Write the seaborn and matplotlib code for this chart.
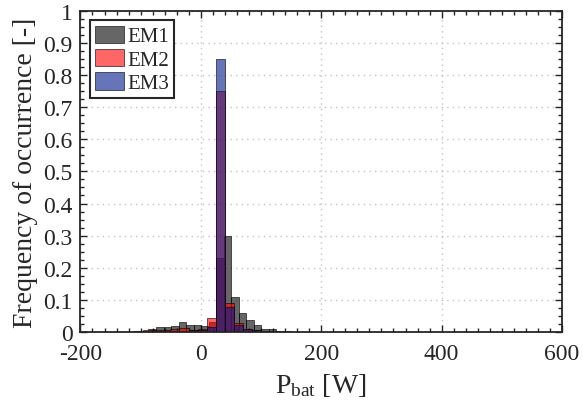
import numpy as np
import pandas as pd
import matplotlib
matplotlib.use("Agg")
import matplotlib.pyplot as plt
import seaborn as sns
from matplotlib.ticker import MultipleLocator

# ---- data ----
series_names = ["EM1", "EM2", "EM3"]

em1_edges_start, em1_bin = -112.0, 12.5
em1_freq = [0.002, 0.004, 0.008, 0.015, 0.015, 0.018, 0.030, 0.022, 0.020, 0.018,
            0.030, 0.230, 0.300, 0.110, 0.058, 0.037, 0.020, 0.010, 0.008, 0.004,
            0.002, 0.001]

em2_edges_start, em2_bin = -110.5, 15.0
em2_freq = [0.003, 0.005, 0.006, 0.007, 0.010, 0.011, 0.005, 0.008, 0.044, 0.750,
            0.090, 0.028, 0.010, 0.005, 0.002]

em3_edges_start, em3_bin = -80.5, 15.0
em3_freq = [0.002, 0.003, 0.004, 0.004, 0.005, 0.006, 0.015, 0.850, 0.078, 0.020,
            0.008, 0.005, 0.003, 0.002]

x_ticks = [-200, 0, 200, 400, 600]
y_ticks = [0, 0.1, 0.2, 0.3, 0.4, 0.5, 0.6, 0.7, 0.8, 0.9, 1]
y_tick_labels = ["0", "0.1", "0.2", "0.3", "0.4", "0.5", "0.6", "0.7", "0.8", "0.9", "1"]

# ---- style ----
sns.set_style("ticks")
plt.rcParams["font.family"] = ["Liberation Serif", "DejaVu Serif"]
plt.rcParams["mathtext.fontset"] = "custom"
plt.rcParams["mathtext.rm"] = "Liberation Serif"
plt.rcParams["mathtext.it"] = "Liberation Serif:italic"

colors = {"EM1": (0.0, 0.0, 0.0), "EM2": (1.0, 0.0, 0.0), "EM3": (0.0, 0.1, 0.55)}

fig = plt.figure(figsize=(5.83, 4.14), dpi=100)
ax = fig.add_axes([0.138, 0.196, 0.826, 0.775])

def build(start, width, freq):
    n = len(freq)
    centers = start + width * (np.arange(n) + 0.5)
    return (start, start + width * n), pd.DataFrame({"P": centers, "f": freq})

for name, (start, width, freq) in zip(series_names,
                                      [(em1_edges_start, em1_bin, em1_freq),
                                       (em2_edges_start, em2_bin, em2_freq),
                                       (em3_edges_start, em3_bin, em3_freq)]):
    brange, df = build(start, width, freq)
    sns.histplot(data=df, x="P", weights="f", binwidth=width, binrange=brange,
                 stat="count", color=colors[name], alpha=0.6,
                 edgecolor=(0, 0, 0, 0.7), linewidth=0.6, label=name, ax=ax)

ax.set_xlim(-200, 600)
ax.set_ylim(0, 1)
ax.set_xticks(x_ticks)
ax.set_xticklabels([str(t) for t in x_ticks])
ax.set_yticks(y_ticks)
ax.set_yticklabels(y_tick_labels)
ax.xaxis.set_minor_locator(MultipleLocator(20))
ax.yaxis.set_minor_locator(MultipleLocator(0.025))
ax.tick_params(which="both", direction="in", top=True, right=True,
               labelsize=17, color="#262626", width=1.0, labelcolor="#262626")
ax.tick_params(which="major", length=5)
ax.tick_params(which="minor", length=3)
ax.tick_params(axis="y", pad=5.5)
ax.tick_params(axis="x", pad=8)
for s in ax.spines.values():
    s.set_linewidth(1.3)
    s.set_color("#262626")
ax.grid(True, which="major", linestyle=(0, (1, 3)), color="#c4c4c4", linewidth=1.0)
ax.set_axisbelow(True)

ax.set_xlabel(r"P$_{\rm bat}$ [W]", fontsize=20, labelpad=5, color="#262626")
ax.set_ylabel("Frequency of occurrence [-]", fontsize=20, labelpad=4, color="#262626")

leg = ax.legend(loc="upper left", fontsize=15, frameon=True, fancybox=False,
                edgecolor="#262626", framealpha=1, borderpad=0.25, labelspacing=0.12,
                handlelength=1.4, handleheight=0.9, handletextpad=0.15,
                borderaxespad=0.45)
leg.get_frame().set_linewidth(1.5)

fig.savefig("out.png", dpi=100)
